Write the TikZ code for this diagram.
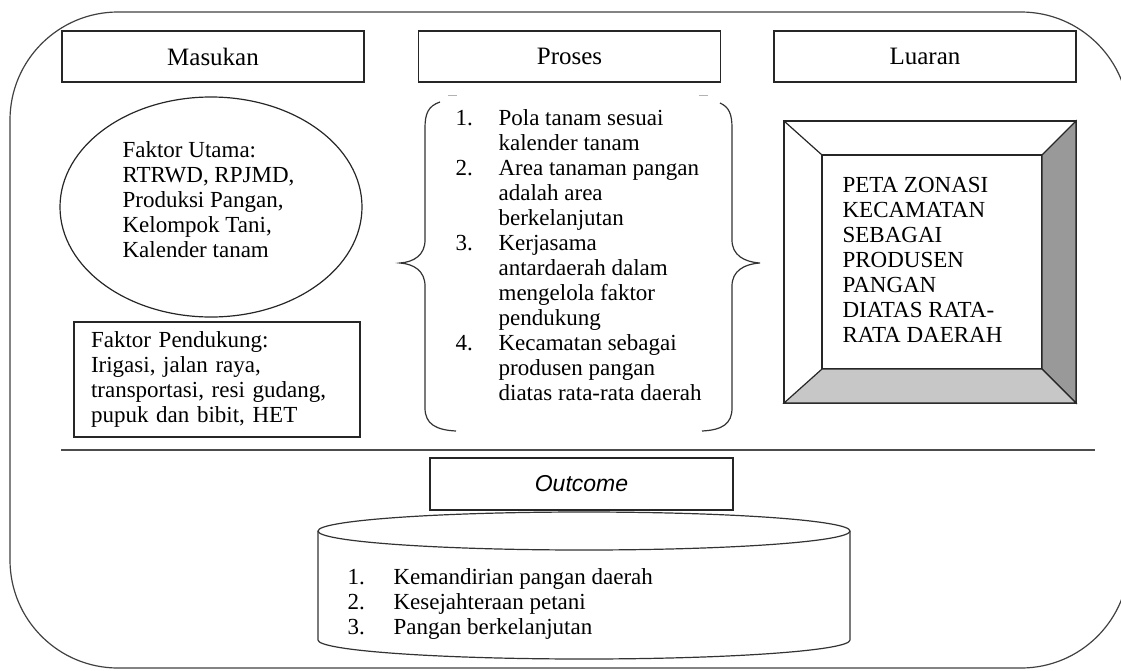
\documentclass[tikz,border=0pt]{standalone}
\usepackage{fontspec}
\setmainfont{Liberation Serif}
\setsansfont{Liberation Sans}
\usetikzlibrary{shapes.geometric}

\begin{document}
\begin{tikzpicture}[
  x=1pt, y=-1pt,
  font=\fontsize{23}{25}\selectfont,
  line width=1.2pt,
  hdr/.style={draw=black!85, minimum width=302pt, minimum height=51pt,
    inner sep=0pt, outer sep=0pt, font=\fontsize{25}{27}\selectfont},
  box/.style={draw=black!85, inner sep=0pt, outer sep=0pt},
  txt/.style={inner sep=0pt, align=left},
  bev/.style={draw=black!85, fill=#1},
  cyl/.style={draw=black!80},
]
\useasboundingbox (0,0) rectangle (1121,670);
% outer frame
\draw[draw=black!75, rounded corners=108pt] (10,12) rectangle (1129,668);
% headers
\node[hdr] (masukan) at (213,56.5) {Masukan};
\node[hdr] (proses) at (569.5,56.5) {Proses};
\node[hdr] (luaran) at (925,56.5) {Luaran};
% masukan
\node[box, ellipse, minimum width=302pt, minimum height=220pt] (utama) at (211,207) {};
\node[txt, anchor=north west] (utamatxt) at (122,141) {Faktor Utama:\\RTRWD, RPJMD,\\Produksi Pangan,\\Kelompok Tani,\\Kalender tanam};
\node[box, txt, text width=252pt, inner xsep=17pt, minimum height=115pt] (pendukung) at (217,379.5)
  {Faktor Pendukung:\\Irigasi, jalan raya,\\transportasi, resi gudang,\\pupuk dan bibit, HET};
% proses
\draw[draw=black!80] (440,102) .. controls (428,106) and (425,114) .. (425,128) -- (425,240)
  .. controls (425,255) and (414,262) .. (400,263) .. controls (414,264) and (425,271) .. (425,286)
  -- (425,408) .. controls (425,424) and (436,430) .. (456,431);
\draw[draw=black!80] (720,103) .. controls (729,107) and (732,114) .. (732,128) -- (732,240)
  .. controls (732,255) and (744,262) .. (760,263) .. controls (744,264) and (732,271) .. (732,286)
  -- (732,408) .. controls (732,424) and (722,430) .. (702,431);
\draw[draw=gray!60, line width=1pt] (448,95) -- (457,95);
\draw[draw=gray!60, line width=1pt] (699,95) -- (708,95);
\node[txt, anchor=north west] (langkah) at (455,107) {\begin{tabular}{@{}p{43pt}@{}l@{}}
1.&Pola tanam sesuai\\&kalender tanam\\
2.&Area tanaman pangan\\&adalah area\\&berkelanjutan\\
3.&Kerjasama\\&antardaerah dalam\\&mengelola faktor\\&pendukung\\
4.&Kecamatan sebagai\\&produsen pangan\\&diatas rata-rata daerah
\end{tabular}};
% luaran
\node[box, minimum width=292pt, minimum height=282pt] (bevel) at (930,262) {};
\node[box, minimum width=220pt, minimum height=214pt] (zonasi) at (932,262) {};
\filldraw[bev=black!40] (bevel.north east) -- (bevel.south east) -- (zonasi.south east) -- (zonasi.north east) -- cycle;
\filldraw[bev=black!22] (bevel.south west) -- (bevel.south east) -- (zonasi.south east) -- (zonasi.south west) -- cycle;
\draw[draw=black!85] (bevel.north west) -- (zonasi.north west);
\node[txt, anchor=north west] (zonasitxt) at (842,176.5) {PETA ZONASI\\KECAMATAN\\SEBAGAI\\PRODUSEN\\PANGAN\\DIATAS RATA-\\RATA DAERAH};
% divider
\coordinate (divl) at (61,450);
\coordinate (divr) at (1095,450);
\draw[draw=black!70, line width=1.5pt] (divl) -- (divr);
% outcome
\node[hdr, minimum width=303pt, minimum height=52pt, font=\fontsize{23}{25}\selectfont\sffamily\itshape] (outcome) at (581.5,484) {Outcome};
\draw[cyl] (584,531) ellipse [x radius=266, y radius=19];
\draw[cyl] (318,531) -- (318,640) arc[start angle=180, end angle=0, x radius=266, y radius=19] -- (850,531);
\node[txt, anchor=north west] (hasil) at (347,566) {\begin{tabular}{@{}p{46pt}@{}l@{}}
1.&Kemandirian pangan daerah\\
2.&Kesejahteraan petani\\
3.&Pangan berkelanjutan
\end{tabular}};
\end{tikzpicture}
\end{document}
